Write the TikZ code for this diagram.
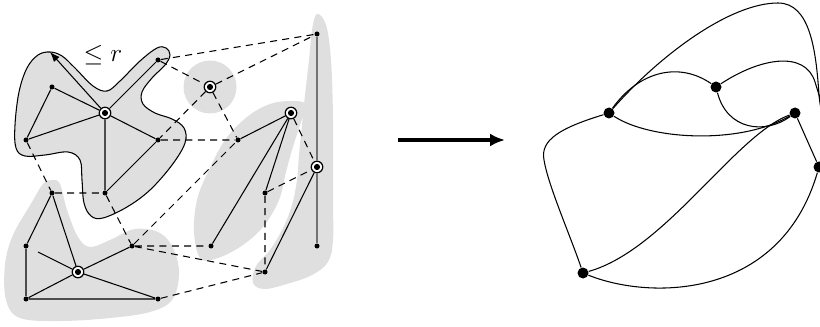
\documentclass[tikz,border=0pt]{standalone}
\usepackage{amsmath,amssymb}
\usetikzlibrary{arrows.meta}

\tikzset{
  dot/.style={circle,fill=black,inner sep=0pt,minimum size=1mm},
  ring/.style={circle,draw,line width=0.7pt,fill=white,inner sep=0pt,minimum size=2.3mm,
    path picture={\fill[black] (path picture bounding box.center) circle (0.62mm);}},
  bigdot/.style={circle,fill=black,inner sep=0pt,minimum size=2.2mm},
  blob/.style={fill=gray!25},
  edge/.style={line width=0.6pt},
  link/.style={line width=0.6pt,dash pattern=on 4pt off 3pt}
}

\begin{document}
\begin{tikzpicture}[x=0.2mm,y=-0.2mm]
  \useasboundingbox (0,0) rectangle (820,327);

  % clusters
  \fill[blob] plot[smooth cycle,tension=0.6] coordinates {(52,180) (60,184) (67,210) (78,237)
    (90,247) (110,240) (135,229) (160,233) (174,250) (179,275) (172,300) (150,312) (110,318)
    (60,321) (20,318) (6,300) (5,265) (13,235) (32,202) (43,184)};
  \fill[blob] plot[smooth cycle,tension=0.6] coordinates {(200,258) (194,232) (197,200) (208,172)
    (225,140) (247,117) (270,104) (293,101) (306,105) (300,125) (292,150) (286,172) (279,200)
    (263,227) (240,247) (215,259)};
  \fill[blob] plot[smooth cycle,tension=0.6] coordinates {(317,14) (326,25) (331,60) (333,120)
    (333,200) (333,240) (328,262) (312,275) (290,283) (265,289) (253,283) (256,266) (270,250)
    (283,228) (292,205) (297,180) (299,155) (302,125) (305,95) (309,60) (312,30)};
  \fill[blob] (210,87) circle (5.3mm);
  \draw[blob,edge] plot[smooth cycle,tension=0.6] coordinates {(50,52) (62,56) (75,68) (93,86)
    (107,91) (120,81) (140,61) (157,48) (166,48) (170,55) (165,65) (152,78) (142,92) (143,104)
    (155,113) (172,119) (184,128) (185,143) (172,165) (150,190) (127,207) (103,218) (91,216)
    (84,203) (82,180) (80,160) (68,152) (45,155) (25,156) (16,148) (15,125) (19,92) (27,68)
    (38,55)};

  % left graph
  \node[ring] (c1) at (105,113) {};
  \node[ring] (c2) at (210,87) {};
  \node[ring] (c3) at (291,113) {};
  \node[ring] (c4) at (78,272) {};
  \node[ring] (r0) at (317,167) {};
  \node[dot] (t1) at (52,87) {};
  \node[dot] (t2) at (26,140) {};
  \node[dot] (t3) at (158,60) {};
  \node[dot] (t4) at (158,140) {};
  \node[dot] (t5) at (105,193) {};
  \node[dot] (b1) at (52,193) {};
  \node[dot] (b2) at (26,246) {};
  \node[dot] (b3) at (26,299) {};
  \node[dot] (b4) at (158,299) {};
  \node[dot] (b5) at (132,246) {};
  \node[dot] (m1) at (238,140) {};
  \node[dot] (m2) at (265,193) {};
  \node[dot] (m3) at (211,246) {};
  \node[dot] (m4) at (265,272) {};
  \node[dot] (r1) at (317,34) {};
  \node[dot] (r2) at (317,246) {};
  \coordinate (tip) at (50,52);
  \coordinate (bs) at (38,252);
  \node[font=\Large] (lab) at (103,55) {$\le r$};

  \draw[edge,-{Latex[length=2mm,width=1.5mm]}] (c1) -- (tip);
  \draw[edge] (c1) -- (t1) (c1) -- (t2) (c1) -- (t3) (c1) -- (t4) (c1) -- (t5)
    (t1) -- (t2) (t4) -- (t5);
  \draw[edge] (c4) -- (b1) (c4) -- (b5) (c4) -- (b3) (c4) -- (b4) (c4) -- (bs)
    (b1) -- (b2) (b2) -- (b3) (b3) -- (b4);
  \draw[edge] (c3) -- (m1) (c3) -- (m2) (c3) -- (m3) (r0) -- (m4);
  \draw[line width=0.9pt,black!55] (r1) -- (r0) -- (r2);

  \draw[link] (t3) -- (r1) (t3) -- (c2) (c2) -- (r1) (c2) -- (t4) (c2) -- (m1)
    (t4) -- (m1) (t2) -- (b1) (b1) -- (t5) (t5) -- (b5) (b5) -- (m1) (b5) -- (m3)
    (b5) -- (m4) (b4) -- (m4) (m2) -- (r0) (m2) -- (m4) (c3) -- (r0);

  % arrow
  \coordinate (ar1) at (398,140);
  \coordinate (ar2) at (505,140);
  \draw[line width=2pt,-{Latex[length=3mm,width=2.6mm]}] (ar1) -- (ar2);

  % contracted graph
  \node[bigdot] (g1) at (609,113) {};
  \node[bigdot] (g2) at (716,87) {};
  \node[bigdot] (g3) at (795,113) {};
  \node[bigdot] (g4) at (819,167) {};
  \node[bigdot] (g5) at (583,273) {};

  \draw[edge] (g1) .. controls (660,55) and (730,3) .. (778,3)
    .. controls (810,3) and (816,50) .. (819,95) .. controls (822,130) and (840,155) .. (g4);
  \draw[edge] (g1) .. controls (640,70) and (680,62) .. (g2);
  \draw[edge] (g2) .. controls (760,58) and (805,50) .. (815,82)
    .. controls (822,105) and (838,150) .. (g4);
  \draw[edge] (g2) .. controls (727,130) and (765,135) .. (g3);
  \draw[edge] (g1) .. controls (650,140) and (740,145) .. (g3);
  \draw[edge] (g3) .. controls (735,135) and (665,250) .. (g5);
  \draw[edge] (g1) .. controls (560,128) and (540,140) .. (544,160)
    .. controls (548,185) and (570,235) .. (g5);
  \draw[edge] (g5) .. controls (650,300) and (780,300) .. (g4);
  \draw[edge] (g3) -- (g4);
\end{tikzpicture}
\end{document}
